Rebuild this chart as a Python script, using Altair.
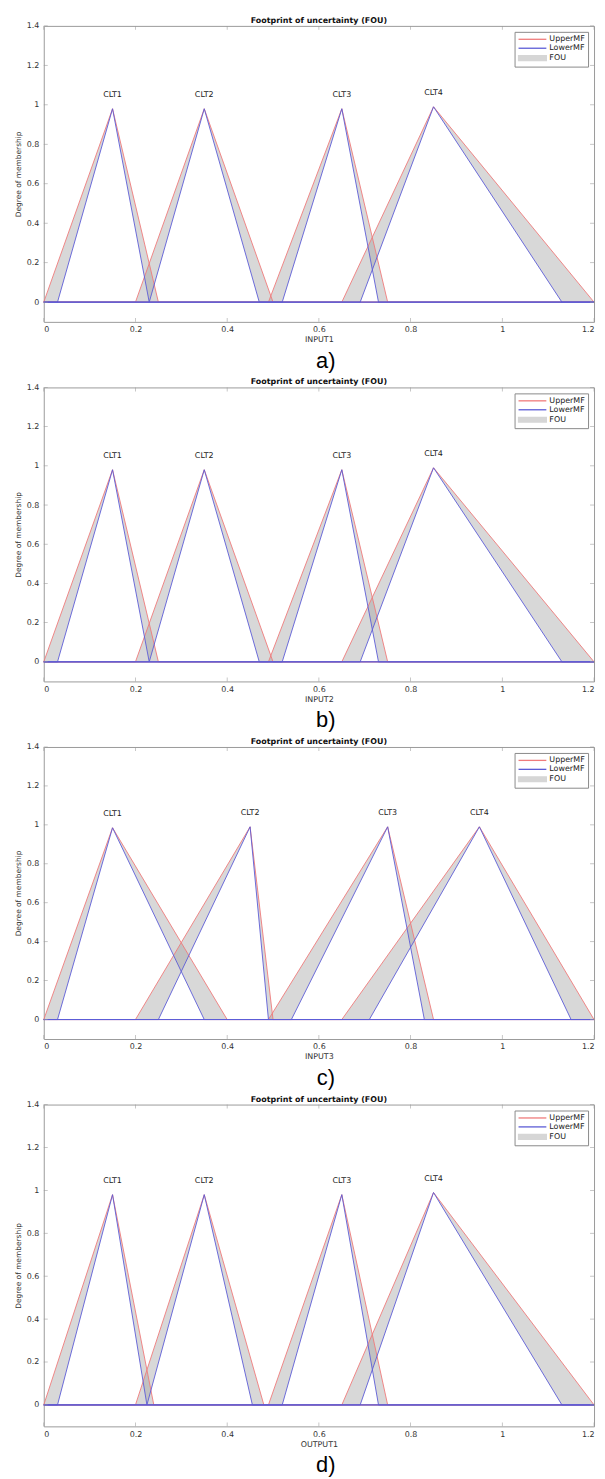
import altair as alt
import pandas as pd

# ---------------- data ----------------
panel_tags = ["a)", "b)", "c)", "d)"]
axis_titles = ["INPUT1", "INPUT2", "INPUT3", "OUTPUT1"]
clt_names = ["CLT1", "CLT2", "CLT3", "CLT4"]
legend_names = ["UpperMF", "LowerMF", "FOU"]

x_ticks = [0, 0.2, 0.4, 0.6, 0.8, 1, 1.2]
y_ticks = [0, 0.2, 0.4, 0.6, 0.8, 1, 1.2, 1.4]

# per panel, per CLT: upper MF feet, lower MF feet, apex
upper_left = [[0.00, 0.20, 0.49, 0.65], [0.00, 0.20, 0.49, 0.65],
              [0.00, 0.20, 0.49, 0.65], [0.00, 0.20, 0.49, 0.65]]
upper_right = [[0.25, 0.50, 0.75, 1.20], [0.25, 0.50, 0.75, 1.20],
               [0.40, 0.50, 0.85, 1.20], [0.24, 0.48, 0.75, 1.20]]
lower_left = [[0.03, 0.23, 0.52, 0.69], [0.03, 0.23, 0.52, 0.69],
              [0.03, 0.25, 0.54, 0.71], [0.03, 0.225, 0.52, 0.69]]
lower_right = [[0.23, 0.47, 0.73, 1.13], [0.23, 0.47, 0.73, 1.13],
               [0.35, 0.49, 0.83, 1.15], [0.225, 0.455, 0.73, 1.13]]
peak_x = [[0.15, 0.35, 0.65, 0.85], [0.15, 0.35, 0.65, 0.85],
          [0.15, 0.45, 0.75, 0.95], [0.15, 0.35, 0.65, 0.85]]
peak_y = [[0.98, 0.98, 0.98, 0.99], [0.98, 0.98, 0.98, 0.99],
          [0.985, 0.99, 0.99, 0.99], [0.98, 0.98, 0.98, 0.99]]

X_MIN, X_MAX = 0.0, 1.2

# ---------------- styling ----------------
RED = "#ef7b7b"
BLUE = "#5c5cd6"
FOU_FILL = "#a3a3a3"
FRAME = "#9a9a9a"
FONT = "DejaVu Sans"
W = 554
HEIGHTS = [298, 296, 294, 324]


def make_legend():
    return alt.Legend(title=None, orient="top-right", offset=6,
                      fillColor="white", strokeColor="#8a8a8a",
                      padding=3, rowPadding=0, symbolSize=49,
                      symbolStrokeWidth=1.3, symbolOpacity=1,
                      labelFont=FONT, labelFontSize=8,
                      labelColor="#222", labelOffset=23)


def panel(p, H):
    line_rows, poly_rows, lab_rows = [], [], []
    for i, name in enumerate(clt_names):
        h = peak_y[p][i]
        pk = peak_x[p][i]
        for kind, lf, rf in (("UpperMF", upper_left[p][i], upper_right[p][i]),
                             ("LowerMF", lower_left[p][i], lower_right[p][i])):
            pts = [(X_MIN, 0), (lf, 0), (pk, h), (rf, 0), (X_MAX, 0)]
            for k, (xx, yy) in enumerate(pts):
                line_rows.append({"clt": name, "kind": kind, "x": xx, "y": yy, "o": k})
        verts = [(upper_left[p][i], 0), (pk, h), (upper_right[p][i], 0),
                 (lower_right[p][i], 0), (pk, h), (lower_left[p][i], 0)]
        for k, (xx, yy) in enumerate(verts):
            poly_rows.append({"clt": name, "x": xx, "y": yy, "o": k})
        lab_rows.append({"clt": name, "x": pk, "y": h})

    lines = pd.DataFrame(line_rows)
    polys = pd.DataFrame(poly_rows)
    labs = pd.DataFrame(lab_rows)

    x_enc = alt.X("x:Q", scale=alt.Scale(domain=[X_MIN, X_MAX], nice=False, zero=False),
                  axis=alt.Axis(values=x_ticks, format="~g", title=axis_titles[p]))
    y_enc = alt.Y("y:Q", scale=alt.Scale(domain=[-0.1, 1.4], nice=False, zero=False),
                  axis=alt.Axis(values=y_ticks, format="~g", title="Degree of membership"))

    fou = alt.Chart(polys).mark_line(
        fill=FOU_FILL, fillOpacity=0.42, strokeOpacity=0, interpolate="linear-closed"
    ).encode(x=x_enc, y=y_enc, detail="clt:N", order="o:Q")

    upper = alt.Chart(lines[lines.kind == "UpperMF"]).mark_line(
        color=RED, strokeWidth=0.9).encode(x=x_enc, y=y_enc, detail="clt:N", order="o:Q")
    lower = alt.Chart(lines[lines.kind == "LowerMF"]).mark_line(
        color=BLUE, strokeWidth=0.9).encode(x=x_enc, y=y_enc, detail="clt:N", order="o:Q")

    text = alt.Chart(labs).mark_text(
        font=FONT, fontSize=8, color="#222", dy=-14, baseline="middle"
    ).encode(x=x_enc, y=y_enc, text="clt:N")

    xt = pd.DataFrame({"x": x_ticks})
    yt = pd.DataFrame({"y": y_ticks})
    tick_top = alt.Chart(xt).mark_tick(color=FRAME, size=4, thickness=0.8).encode(
        x=x_enc, y=alt.value(2))
    tick_bot = alt.Chart(xt).mark_tick(color=FRAME, size=4, thickness=0.8).encode(
        x=x_enc, y=alt.value(H - 2))
    tick_l = alt.Chart(yt).mark_tick(color=FRAME, size=4, thickness=0.8).encode(
        y=y_enc, x=alt.value(2))
    tick_r = alt.Chart(yt).mark_tick(color=FRAME, size=4, thickness=0.8).encode(
        y=y_enc, x=alt.value(W - 2))

    fld = f"series{p}"
    leg_df = pd.DataFrame({fld: legend_names})
    dom = legend_names
    legend_layer = alt.Chart(leg_df).mark_point(opacity=0, filled=False).encode(
        x=alt.value(W / 2), y=alt.value(H / 2),
        color=alt.Color(f"{fld}:N", scale=alt.Scale(domain=dom, range=[RED, BLUE, "#d6d6d6"]),
                        legend=make_legend()),
        fill=alt.Fill(f"{fld}:N", scale=alt.Scale(domain=dom,
                                                   range=["transparent", "transparent", "#d6d6d6"]),
                      legend=make_legend()),
        shape=alt.Shape(f"{fld}:N", scale=alt.Scale(domain=dom,
                                                     range=["M-1,0H7", "M-1,0H7",
                                                            "M-1,-0.7H7V0.7H-1Z"]),
                        legend=make_legend()),
    )

    tag_df = pd.DataFrame({"tag": [panel_tags[p]]})
    tag = alt.Chart(tag_df).mark_text(
        font="Liberation Sans", fontSize=22, color="#000", baseline="alphabetic", align="center"
    ).encode(x=alt.value(W / 2 + 7), y=alt.value(H + 46), text="tag:N")

    return alt.layer(
        fou, upper, lower, text, tick_top, tick_bot, tick_l, tick_r, legend_layer, tag
    ).properties(
        width=W, height=H,
        title=alt.TitleParams("Footprint of uncertainty (FOU)", font=FONT, fontSize=8,
                              fontWeight="bold", color="#111", offset=-3),
    )


charts = [panel(p, HEIGHTS[p]) for p in range(4)]

chart = alt.vconcat(*charts, spacing=5).resolve_scale(
    color="independent", fill="independent", shape="independent"
).resolve_legend(
    color="independent", fill="independent", shape="independent"
).properties(
    padding={"left": 5, "top": 3, "right": 0, "bottom": 0}
).configure_view(
    stroke=FRAME, strokeWidth=1
).configure_axis(
    grid=False, ticks=False, tickSize=0, domain=False,
    labelFont=FONT, labelFontSize=8, labelColor="#333", labelPadding=5,
    titleFont=FONT, titleFontSize=8, titleFontWeight="normal", titleColor="#333",
).configure_axisY(
    titleFontSize=7.5, titlePadding=4
).configure_axisX(
    titlePadding=2, labelPadding=4
)

chart.save("out.html", embed_options={"renderer": "svg", "actions": False})
